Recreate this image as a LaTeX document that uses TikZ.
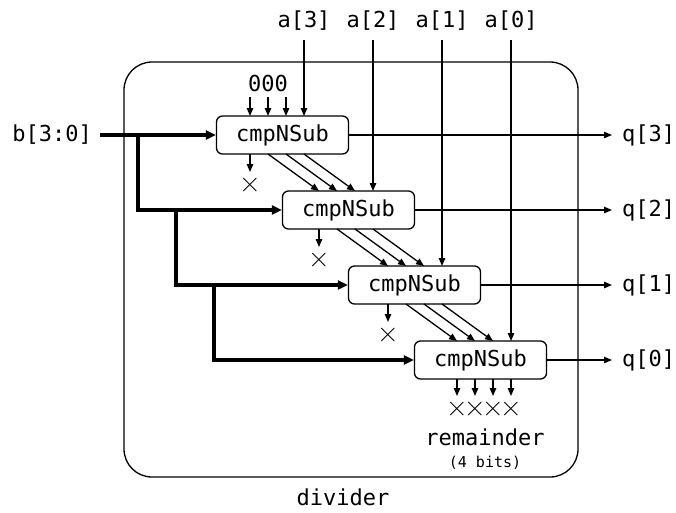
\documentclass[tikz,border=0pt]{standalone}
\usepackage{fontspec}
\setmonofont{DejaVu Sans Mono}
\usetikzlibrary{arrows.meta}
\begin{document}
\begin{tikzpicture}[x=1pt,y=-1pt,
  txt/.style={font=\ttfamily\fontsize{22}{26}\selectfont, inner sep=0pt},
  crosstxt/.style={font=\rmfamily\fontsize{30}{32}\selectfont, inner sep=0pt},
  smalltxt/.style={font=\ttfamily\fontsize{15}{18}\selectfont, inner sep=0pt},
  unit/.style={draw, rounded corners=6pt, line width=1.3pt, minimum width=132pt, minimum height=38pt, inner sep=0pt, font=\ttfamily\fontsize{22}{26}\selectfont},
  wire/.style={line width=1.3pt, -{Triangle[length=8pt,width=6.5pt]}},
  busline/.style={line width=3.4pt, -{Triangle[length=10pt,width=9pt]}},
  ]
\useasboundingbox (0,0) rectangle (676,512);
% outer block
\node[draw, rounded corners=28pt, line width=1.3pt, minimum width=454pt, minimum height=415pt, inner sep=0pt] (outer) at (351,269.5) {};
\node[txt] (lbl) at (343,497) {divider};
% units
\foreach \k in {0,...,3}{
  \node[unit, fill=white] (B\k) at ({282.5+66*\k},{135+75*\k}) {cmpNSub};
  \foreach \j in {0,...,3}{
    \coordinate (T\k\j) at ({250+69*\k+18*\j},{116+75*\k});
    \coordinate (D\k\j) at ({250+69*\k+18*\j},{154+75*\k});
  }
}
% a inputs
\foreach \k/\n in {0/3,1/2,2/1,3/0}{
  \node[txt] (a\n) at ({304+69*\k},21) {a[\n]};
  \coordinate (as\n) at ({304+69*\k},40);
  \draw[wire] (as\n) -- (T\k3);
}
% zeros
\node[txt] (zeros) at (268,83) {000};
\foreach \j in {0,1,2}{
  \coordinate (Z\j) at ({250+18*\j},97);
  \draw[wire] (Z\j) -- (T0\j);
}
% discarded bits
\foreach \k in {0,1,2}{
  \coordinate (X\k) at ({250+69*\k},{172+75*\k});
  \node[crosstxt] (xm\k) at ({250+69*\k},{185+75*\k}) {×};
  \draw[wire] (D\k0) -- (X\k);
}
% diagonals
\foreach \k [evaluate=\k as \kk using int(\k+1)] in {0,1,2}{
  \foreach \j [evaluate=\j as \jj using int(\j-1)] in {1,2,3}{
    \draw[wire] (D\k\j) -- (T\kk\jj);
  }
}
% remainder
\foreach \j in {0,...,3}{
  \coordinate (Y\j) at ({457+18*\j},396);
  \node[crosstxt] (ym\j) at ({457+18*\j},409) {×};
  \draw[wire] (D3\j) -- (Y\j);
}
\node[txt] (rem) at (485,437) {remainder};
\node[smalltxt] (bits) at (485,463) {(4 bits)};
% outputs
\foreach \k/\n in {0/3,1/2,2/1,3/0}{
  \node[txt, anchor=west, inner xsep=10pt] (q\n) at (612,{135+75*\k}) {q[\n]};
  \draw[wire] (B\k.east) -- (q\n.west);
}
% b bus
\node[txt, anchor=east, inner xsep=8pt] (b) at (100,135) {b[3:0]};
\coordinate (br0) at (138,135);
\coordinate (br1) at (176,210);
\coordinate (br2) at (214,285);
\draw[busline] (b.east) -- (B0.west);
\draw[busline] (br0) |- (B1.west);
\draw[busline] (br1) |- (B2.west);
\draw[busline] (br2) |- (B3.west);
\end{tikzpicture}
\end{document}
